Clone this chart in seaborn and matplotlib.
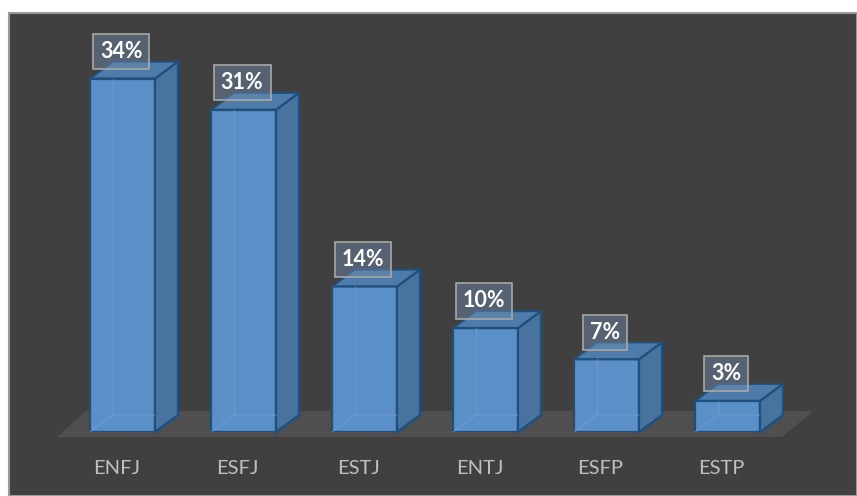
import matplotlib
matplotlib.use("Agg")
import matplotlib.pyplot as plt
from matplotlib.patches import Rectangle, Polygon
from matplotlib.transforms import ScaledTranslation
import seaborn as sns
import pandas as pd

# Personality types and their share (%)
types = ["ENFJ", "ESFJ", "ESTJ", "ENTJ", "ESFP", "ESTP"]
shares = [34, 31, 14, 10, 7, 3]

BG = "#404040"
FLOOR = "#504e4e"
FRONT = "#5b8fc8"
SIDE = "#48739f"
TOP = "#4d7cab"
EDGE = "#1f4f7c"
TICK = "#bfbfbf"

sns.set_style("white")
plt.rcParams["font.family"] = ["Lato", "DejaVu Sans"]

W, H = 857, 496
fig = plt.figure(figsize=(W / 100, H / 100), dpi=100, facecolor="white")
fig.patches.append(Rectangle((9 / W, 0), (W - 9) / W, (H - 13) / H,
                             transform=fig.transFigure, facecolor=BG,
                             edgecolor="#9a9a9a", lw=1.5, zorder=-10))

ax = fig.add_axes([62 / W, 64 / H, 726 / W, 419 / H])
ax.set_facecolor("none")

df = pd.DataFrame({"type": types, "share": shares})
sns.barplot(data=df, x="type", y="share", ax=ax, color=FRONT, saturation=1,
            width=65 / 121, edgecolor=EDGE, linewidth=1.6, zorder=3)

ax.set_xlim(-0.5, len(types) - 0.5)
ax.set_ylim(0, 40.3)

# depth of the 3D extrusion in data units
dx, dy = 0.19, 1.63
n = len(types)

# floor plane
floor = Polygon([(-0.54, -0.48), (n - 0.55, -0.48), (n - 0.29, 2.02), (-0.30, 2.02)],
                closed=True, facecolor=FLOOR, edgecolor="none", zorder=1, clip_on=False)
ax.add_patch(floor)

for p in ax.patches[:n]:
    x0, w, h = p.get_x(), p.get_width(), p.get_height()
    x1 = x0 + w
    side = Polygon([(x1, 0), (x1 + dx, dy), (x1 + dx, h + dy), (x1, h)], closed=True,
                   facecolor=SIDE, edgecolor=EDGE, lw=1.6, zorder=3, clip_on=False)
    top = Polygon([(x0, h), (x1, h), (x1 + dx, h + dy), (x0 + dx, h + dy)], closed=True,
                  facecolor=TOP, edgecolor=EDGE, lw=1.6, zorder=3, clip_on=False)
    ax.add_patch(side)
    ax.add_patch(top)
    # faint hidden edges seen through the translucent bar
    ax.plot([x0 + dx, x0 + dx], [dy, h], color="#74a3d6", lw=1, alpha=0.5, zorder=4)
    ax.plot([x0, x0 + dx, x1], [0, dy, dy], color="#74a3d6", lw=1, alpha=0.5, zorder=4)

for i, v in enumerate(shares):
    ax.annotate(f"{v}%", xy=(i, v), xytext=(-1, 19.5), textcoords="offset points",
                ha="center", va="center", color="white", fontsize=15.5, fontweight="bold",
                zorder=6,
                bbox=dict(boxstyle="square,pad=0.33", fc=(0.45, 0.55, 0.68, 0.45),
                          ec="#a8a8a8", lw=1.2))

for s in ax.spines.values():
    s.set_visible(False)
ax.set_xlabel("")
ax.set_ylabel("")
ax.set_yticks([])
ax.tick_params(axis="x", length=0, pad=20, labelsize=14.5, labelcolor=TICK)
shift = ScaledTranslation(-6 / 100, 0, fig.dpi_scale_trans)
for lbl in ax.get_xticklabels():
    lbl.set_transform(lbl.get_transform() + shift)

fig.savefig("out.png", dpi=100, facecolor="white")
